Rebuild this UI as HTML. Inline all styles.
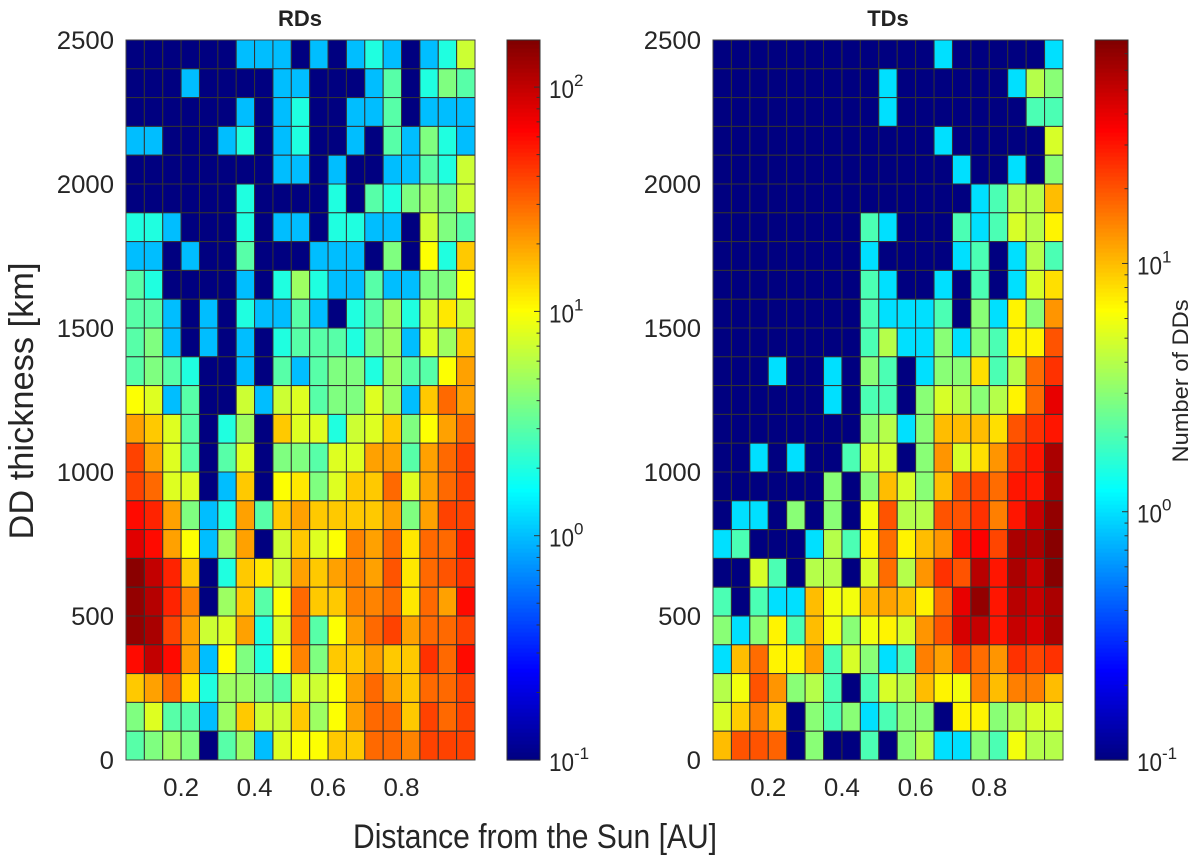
<!DOCTYPE html>
<html><head><meta charset="utf-8"><style>
html,body{margin:0;padding:0;background:#fff;}
svg{display:block;font-family:"Liberation Sans",Arial,sans-serif;}
</style></head><body>
<svg id="fig" width="1200" height="862" viewBox="0 0 1200 862">
<text x="300" y="26" font-size="22" font-weight="bold" text-anchor="middle" fill="#222">RDs</text>
<text x="888" y="26" font-size="22" font-weight="bold" text-anchor="middle" fill="#222">TDs</text>
<text x="535" y="848" font-size="34" text-anchor="middle" textLength="364" lengthAdjust="spacingAndGlyphs" fill="#262626">Distance from the Sun [AU]</text>
<text transform="translate(33,401) rotate(-90)" font-size="34" text-anchor="middle" textLength="277" lengthAdjust="spacingAndGlyphs" fill="#262626">DD thickness [km]</text>
<text transform="translate(1188,381) rotate(-90)" font-size="22" text-anchor="middle" textLength="163" lengthAdjust="spacingAndGlyphs" fill="#262626">Number of DDs</text>
</svg>
<script>
// ---- data (rows from top: 2400-2500 km down to 0-100 km), counts per bin ----
const xTicks = [0.2, 0.4, 0.6, 0.8];
const yTicks = [0, 500, 1000, 1500, 2000, 2500];
const rdsCounts = [
[0,0,0,0,0,0,1,1,1,0,1,0,1,2,1,0,1,2,7],
[0,0,0,1,0,0,0,0,1,1,0,0,0,1,3,0,2,4,3],
[0,0,0,0,0,0,1,0,1,2,0,0,1,1,3,0,1,1,1],
[1,1,0,0,0,1,2,0,1,2,0,0,1,0,3,1,4,2,1],
[0,0,0,0,0,0,0,0,1,1,0,1,0,0,1,1,3,2,7],
[0,0,0,0,0,0,2,0,0,0,0,2,0,3,2,4,5,4,7],
[2,2,1,0,0,0,2,0,1,1,0,2,2,1,1,0,7,4,3],
[1,1,0,1,0,0,3,0,0,0,1,1,1,0,4,0,10,2,15],
[3,2,0,0,0,0,1,0,2,5,2,1,1,3,1,1,4,4,10],
[3,3,1,0,1,0,2,1,1,3,1,0,2,3,5,2,7,12,7],
[3,4,1,0,1,0,1,0,2,3,3,3,2,4,5,1,8,5,15],
[3,4,3,2,0,0,1,0,3,1,3,4,4,2,5,3,3,10,20],
[10,8,1,3,0,0,7,1,7,8,3,4,4,8,5,1,15,30,20],
[20,15,8,3,0,2,5,0,15,8,8,2,7,8,15,4,10,20,30],
[40,20,8,3,0,3,8,0,4,4,3,8,8,20,20,3,20,30,40],
[40,30,8,8,0,1,15,0,10,12,4,8,15,15,30,8,20,30,40],
[60,50,20,4,1,2,20,3,15,20,15,15,15,15,20,4,20,40,40],
[80,60,20,10,1,5,20,0,7,15,8,10,25,20,30,12,30,30,50],
[150,100,50,15,0,2,15,12,7,20,15,20,25,20,35,12,30,35,45],
[140,110,50,25,0,5,15,3,10,30,15,15,25,25,30,12,30,20,60],
[140,120,40,20,7,8,20,2,8,30,3,10,20,30,40,20,30,30,40],
[60,100,60,20,1,10,4,2,10,25,4,15,15,20,15,15,45,30,60],
[15,20,30,12,2,5,5,4,3,8,7,10,20,30,20,15,30,30,40],
[4,8,3,3,1,5,15,7,7,15,5,10,20,30,30,15,40,30,40],
[3,4,5,4,0,3,5,1,8,10,10,15,15,30,30,25,40,40,40]
];
const tdsCounts = [
[0,0,0,0,0,0,0,0,0,0,0,0,1,0,0,0,0,0,1],
[0,0,0,0,0,0,0,0,0,1,0,0,0,0,0,0,1,4,3],
[0,0,0,0,0,0,0,0,0,1,0,0,0,0,0,0,0,2,2],
[0,0,0,0,0,0,0,0,0,0,0,0,1,0,0,0,0,0,5],
[0,0,0,0,0,0,0,0,0,0,0,0,0,1,0,0,1,0,3],
[0,0,0,0,0,0,0,0,0,0,0,0,0,0,1,2,4,4,10],
[0,0,0,0,0,0,0,0,2,1,0,0,0,2,1,2,5,4,7],
[0,0,0,0,0,0,0,0,1,0,0,0,0,1,2,0,1,4,2],
[0,0,0,0,0,0,0,0,2,1,0,0,1,0,2,0,1,5,8],
[0,0,0,0,0,0,0,0,2,1,1,1,2,0,3,1,7,3,13],
[0,0,0,0,0,0,0,0,2,4,1,1,3,1,3,2,7,7,20],
[0,0,0,1,0,0,1,0,3,2,0,1,3,3,8,2,4,17,25],
[0,0,0,0,0,0,1,0,2,2,0,3,5,4,3,4,7,17,40],
[0,0,0,0,0,0,0,0,3,4,1,3,10,10,10,8,20,25,30],
[0,0,1,0,1,0,0,2,5,5,0,3,13,5,8,13,25,30,60],
[0,0,0,0,0,0,3,0,3,10,5,3,10,20,22,17,30,30,60],
[0,1,1,0,3,0,3,0,6,20,4,4,20,20,25,15,30,50,70],
[1,2,0,0,0,1,4,2,7,17,7,10,13,30,35,22,60,60,75],
[0,0,5,2,0,4,4,0,5,17,4,13,25,20,55,30,60,50,75],
[2,0,2,1,1,10,6,6,10,12,10,7,17,40,70,30,55,50,60],
[3,1,3,7,2,10,6,3,6,7,5,13,20,45,50,30,50,45,60],
[1,10,17,7,7,12,2,5,3,1,2,15,12,22,17,13,25,22,25],
[4,6,20,13,3,4,2,0,2,5,4,10,7,6,15,10,15,15,10],
[5,9,15,9,0,3,2,3,1,2,3,3,0,7,7,3,4,5,5],
[10,20,20,18,0,3,0,0,2,0,3,4,1,1,3,2,6,4,4]
];
const rdsCbarExp = [-1,0,1,2];
const tdsCbarExp = [-1,0,1];

const NS = "http://www.w3.org/2000/svg";
const svg = document.getElementById('fig');
function mk(tag, attrs, parent){ const e=document.createElementNS(NS,tag); for(const k in attrs) e.setAttribute(k,attrs[k]); (parent||svg).appendChild(e); return e; }
function clamp(v){return Math.max(0,Math.min(1,v));}
function jet(t){ t=clamp(t); const r=clamp(1.5-Math.abs(4*t-3)), g=clamp(1.5-Math.abs(4*t-2)), b=clamp(1.5-Math.abs(4*t-1));
  return `rgb(${Math.round(r*255)},${Math.round(g*255)},${Math.round(b*255)})`; }

function panel(name, counts, px0, px1, cbx, logMax, cbExp){
  const py0=40, py1=760, xmin=0.05, xmax=1.0, ymin=0, ymax=2500;
  const nRows=counts.length, nCols=counts[0].length;
  const xs = v => px0 + (v-xmin)/(xmax-xmin)*(px1-px0);
  const ys = v => py1 - (v-ymin)/(ymax-ymin)*(py1-py0);
  const cs = c => (Math.log10(Math.max(c,0.1))+1)/(logMax+1);
  const g = mk('g',{});
  
  
  const bw=(xmax-xmin)/nCols, bh=(ymax-ymin)/nRows;
  counts.forEach((row,ri)=>{
    const yTop = ymax - ri*bh;
    row.forEach((c,ci)=>{
      const x0=xs(xmin+ci*bw), x1=xs(xmin+(ci+1)*bw);
      const r = mk('rect',{x:x0,y:ys(yTop),width:x1-x0,height:ys(yTop-bh)-ys(yTop),fill:jet(cs(c)),stroke:'#333','stroke-width':1},g);
      
      
    });
  });
  const fr = mk('rect',{x:px0,y:py0,width:px1-px0,height:py1-py0,fill:'none',stroke:'#444','stroke-width':1});
  
  
  xTicks.forEach(t=>{
    const tx = mk('text',{x:xs(t),y:py1+36,'font-size':25,'text-anchor':'middle',textLength:36,lengthAdjust:'spacingAndGlyphs',fill:'#262626'});
    tx.textContent=t.toFixed(1);
    
    
  });
  yTicks.forEach(t=>{
    const s=String(t);
    const tx = mk('text',{x:px0-12,y:ys(t)+9,'font-size':25,'text-anchor':'end',textLength:14.3*s.length,lengthAdjust:'spacingAndGlyphs',fill:'#262626'});
    tx.textContent=s;
    
    
  });
  // colorbar
  const cbw=33;
  const cg = mk('g',{});
  
  
  const N=180;
  for(let i=0;i<N;i++){
    const h=(py1-py0)/N;
    mk('rect',{x:cbx,y:py1-(i+1)*h,width:cbw,height:h+0.6,fill:jet((i+0.5)/N)},cg);
  }
  mk('rect',{x:cbx,y:py0,width:cbw,height:py1-py0,fill:'none',stroke:'#333','stroke-width':1},cg);
  const cy = lv => py1 - (lv+1)/(logMax+1)*(py1-py0);
  for(let d=-1; d<=Math.ceil(logMax); d++){
    for(let m=1;m<10;m++){
      const lv=d+Math.log10(m); if(lv>logMax) break;
      const L = m===1?6:3.5;
      mk('line',{x1:cbx+cbw-L,x2:cbx+cbw,y1:cy(lv),y2:cy(lv),stroke:'#333','stroke-width':1},cg);
    }
  }
  cbExp.forEach(e=>{
    const tx = mk('text',{x:cbx+cbw+9,y:cy(e)+11,'font-size':25,fill:'#262626'});
    
    
    const b = mk('tspan',{textLength:25,lengthAdjust:'spacingAndGlyphs'},tx);
    b.textContent='10';
    const sp = mk('tspan',{dy:-12,'font-size':17},tx);
    sp.textContent = e<0 ? '-'+Math.abs(e) : String(e);
  });
}
panel('rds', rdsCounts, 126, 475, 507, 2.21, rdsCbarExp);
panel('tds', tdsCounts, 713, 1063, 1095, 1.9, tdsCbarExp);
</script>
</body></html>
